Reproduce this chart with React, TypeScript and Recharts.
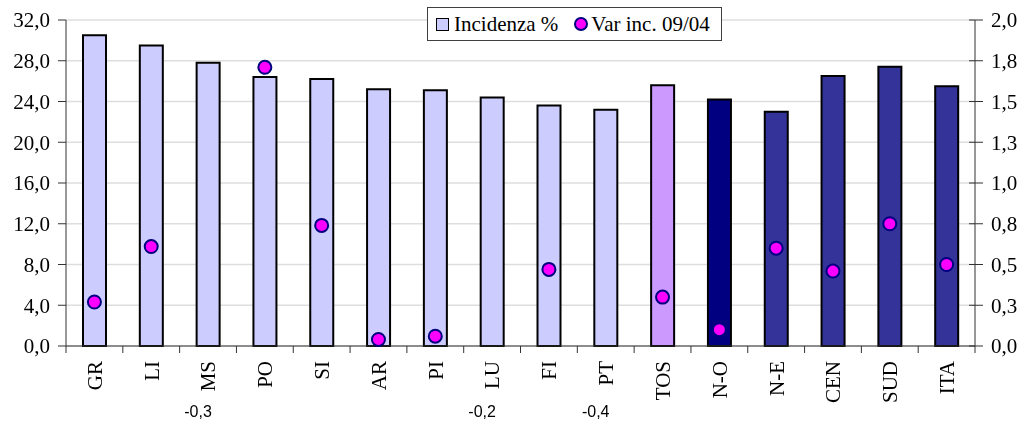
import {
  ComposedChart,
  Bar,
  Line,
  Cell,
  XAxis,
  YAxis,
  CartesianGrid,
} from "recharts";

const CATEGORIES = ["GR", "LI", "MS", "PO", "SI", "AR", "PI", "LU", "FI", "PT", "TOS", "N-O", "N-E", "CEN", "SUD", "ITA"];
const INCIDENZA = [30.5, 29.5, 27.8, 26.4, 26.2, 25.2, 25.1, 24.4, 23.6, 23.2, 25.6, 24.2, 23.0, 26.5, 27.4, 25.5];
const VAR_INC = [0.27, 0.61, -0.3, 1.71, 0.74, 0.04, 0.06, -0.2, 0.47, -0.4, 0.3, 0.1, 0.6, 0.46, 0.75, 0.5];
const LEFT_TICKS = [0, 4, 8, 12, 16, 20, 24, 28, 32];
const RIGHT_TICKS = [0, 0.25, 0.5, 0.75, 1, 1.25, 1.5, 1.75, 2];

const data = CATEGORIES.map((name, i) => ({
  name,
  incidenza: INCIDENZA[i],
  varInc: VAR_INC[i] >= 0 ? VAR_INC[i] : null,
}));

const W = 1013;
const H = 415;
const LEFT_W = 58;
const RIGHT_W = 46;
const BAND = (W - LEFT_W - RIGHT_W) / CATEGORIES.length;
const SERIF = '"Liberation Serif", "Times New Roman", serif';
const FS = 21;

const fmt = (v: number) => v.toFixed(1).replace(".", ",");

function barColor(name: string) {
  if (name === "TOS") return "#CC99FF";
  if (name === "N-O") return "#000080";
  if (["N-E", "CEN", "SUD", "ITA"].includes(name)) return "#333399";
  return "#CCCCFF";
}

function LeftTick({ x, y, payload }: any) {
  return (
    <g>
      <line x1={x - 8} x2={x} y1={y} y2={y} stroke="#333" />
      <text x={x - 16} y={y} dy="0.35em" textAnchor="end" fontSize={FS} fontFamily={SERIF} fill="#000">
        {fmt(payload.value)}
      </text>
    </g>
  );
}

function RightTick({ x, y, payload }: any) {
  return (
    <g>
      <line x1={x - 6} x2={x + 8} y1={y} y2={y} stroke="#333" />
      <text x={x + 16} y={y} dy="0.35em" textAnchor="start" fontSize={FS} fontFamily={SERIF} fill="#000">
        {fmt(payload.value)}
      </text>
    </g>
  );
}

function CatTick({ x, y, payload, index }: any) {
  const raw = VAR_INC[index];
  const last = index === CATEGORIES.length - 1;
  return (
    <g>
      <line x1={x - BAND / 2} x2={x - BAND / 2} y1={y} y2={y + 7} stroke="#333" />
      {last && <line x1={x + BAND / 2} x2={x + BAND / 2} y1={y} y2={y + 7} stroke="#333" />}
      <text
        transform={`translate(${x}, ${y + 15}) rotate(-90)`}
        dy="0.35em"
        textAnchor="end"
        fontSize={FS}
        fontFamily={SERIF}
        fill="#000"
      >
        {payload.value}
      </text>
      {raw < 0 && (
        <text
          x={x - 10}
          y={y + 71}
          textAnchor="middle"
          fontSize={16}
          fontFamily='"Liberation Sans", Arial, sans-serif'
          fill="#000"
        >
          {fmt(raw)}
        </text>
      )}
    </g>
  );
}

export default function App() {
  return (
    <div style={{ position: "fixed", left: 8, top: 8, width: W, height: H, fontFamily: SERIF }}>
      <ComposedChart width={W} height={H} data={data} margin={{ top: 12, right: 0, bottom: 0, left: 0 }}>
        <CartesianGrid yAxisId="left" vertical={false} stroke="#dedede" strokeWidth={1.5} />
        <XAxis
          dataKey="name"
          interval={0}
          height={77}
          tickSize={0}
          tickMargin={0}
          tickLine={false}
          axisLine={{ stroke: "#333" }}
          tick={<CatTick />}
        />
        <YAxis
          yAxisId="left"
          domain={[0, 32]}
          ticks={LEFT_TICKS}
          width={LEFT_W}
          tickSize={0}
          tickMargin={0}
          tickLine={false}
          axisLine={{ stroke: "#333" }}
          tick={<LeftTick />}
        />
        <YAxis
          yAxisId="right"
          orientation="right"
          domain={[0, 2]}
          ticks={RIGHT_TICKS}
          width={RIGHT_W}
          tickSize={0}
          tickMargin={0}
          tickLine={false}
          axisLine={{ stroke: "#333" }}
          tick={<RightTick />}
        />
        <Bar yAxisId="left" dataKey="incidenza" barSize={23} stroke="#000" strokeWidth={2} isAnimationActive={false}>
          {data.map((d, i) => (
            <Cell key={i} fill={barColor(d.name)} />
          ))}
        </Bar>
        <Line
          yAxisId="right"
          dataKey="varInc"
          stroke="none"
          strokeWidth={0}
          dot={{ r: 6.5, fill: "#FF00FF", stroke: "#000080", strokeWidth: 2 }}
          activeDot={false}
          isAnimationActive={false}
        />
      </ComposedChart>
      <div
        style={{
          position: "absolute",
          left: 419,
          top: -1,
          width: 295,
          height: 34,
          boxSizing: "border-box",
          border: "1px solid #404040",
          background: "#fff",
          display: "flex",
          alignItems: "center",
          paddingLeft: 8,
          fontSize: FS,
          fontFamily: SERIF,
          color: "#000",
          whiteSpace: "nowrap",
        }}
      >
        <span style={{ width: 13, height: 13, boxSizing: "border-box", border: "1.5px solid #000", background: "#CCCCFF", display: "inline-block" }} />
        <span style={{ marginLeft: 5 }}>Incidenza %</span>
        <span
          style={{
            marginLeft: 16,
            width: 14,
            height: 14,
            boxSizing: "border-box",
            borderRadius: "50%",
            border: "2px solid #000080",
            background: "#FF00FF",
            display: "inline-block",
          }}
        />
        <span style={{ marginLeft: 3 }}>Var inc. 09/04</span>
      </div>
    </div>
  );
}
